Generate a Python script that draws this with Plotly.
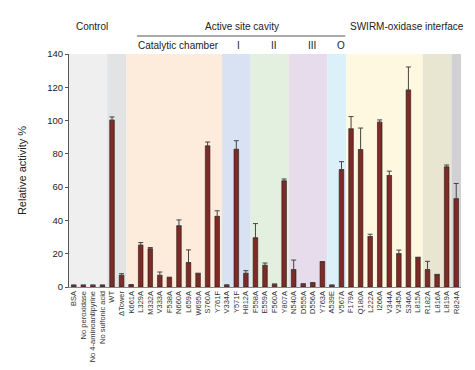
import plotly.graph_objects as go

categories = ["BSA", "No peroxidase", "No 4-aminoantipyrine", "No sulfonic acid", "WT", "ΔTower",
              "K661A", "L329A", "M332A", "V333A", "F538A", "N660A", "L659A", "W695A", "S760A", "Y761F",
              "V334A", "Y571F", "H812A",
              "F558A", "E559A", "F560A", "Y807A",
              "N540A", "D555A", "D556A", "Y763A",
              "A539E", "V567A",
              "F179A", "Q180A", "L222A", "I266A", "V344A", "V345A", "S346A", "L815A",
              "R182A", "L816A", "L819A",
              "R824A"]
activity = [1, 1, 1, 1, 100.2, 7.0,
            1.2, 25.1, 22.9, 7.0, 5.6, 36.7, 14.7, 8.0, 84.7, 42.4,
            1.0, 82.7, 8.2,
            29.5, 13.0, 1.6, 63.7,
            10.4, 1.6, 2.4, 15.1,
            1.0, 70.5,
            95.0, 82.5, 30.3, 99.0, 67.0, 20.0, 118.3, 17.7,
            10.4, 7.4, 72.1,
            53.0]
error = [0.2, 0.2, 0.2, 0.2, 2.0, 1.0,
         0.3, 1.6, 0.8, 2.0, 0.3, 3.6, 7.6, 0.3, 2.4, 3.4,
         0.3, 5.2, 1.6,
         8.6, 1.4, 0.2, 1.2,
         5.8, 0.4, 0.2, 0.2,
         0.2, 4.8,
         7.4, 13.0, 1.4, 1.4, 2.6, 2.2, 13.9, 0.2,
         5.0, 0.2, 1.2,
         9.2]

# background groups: (first index, last index, colour)
group_starts = [0, 4, 6, 16, 19, 23, 27, 29, 37, 40]
group_ends = [3, 5, 15, 18, 22, 26, 28, 36, 39, 40]
group_colors = ["#efefef", "#e1e3e5", "#fdebdb", "#d9e2f2", "#e3f0e0",
                "#e6dcec", "#dcf0fa", "#fef8e0", "#e8e5d1", "#d1d1d3"]

y_ticks = [0, 20, 40, 60, 80, 100, 120, 140]

x_idx = list(range(len(categories)))

fig = go.Figure()
fig.add_trace(go.Bar(
    x=x_idx, y=activity,
    width=0.48,
    marker=dict(color="#7d2b27", line=dict(color="#2a1210", width=0.6)),
    error_y=dict(type="data", array=error, arrayminus=[0] * len(error), symmetric=False,
                 color="#444444", thickness=1, width=2.5),
))

for s, e, c in zip(group_starts, group_ends, group_colors):
    fig.add_shape(type="rect", xref="x", yref="paper", x0=s - 0.5, x1=e + 0.5, y0=0, y1=1,
                  fillcolor=c, line=dict(width=0), layer="below")

font = "Liberation Sans, Arial, sans-serif"

# page offset of 8px (default body margin) is accounted for in the figure size
plot_top, plot_bot = 54, 287


def ypaper(p):
    return (plot_bot - p) / (plot_bot - plot_top)


def header(text, xdata, ypix):
    fig.add_annotation(text=text, x=xdata, xref="x", y=ypaper(ypix), yref="paper",
                       showarrow=False, font=dict(size=10, color="#222222", family=font),
                       xanchor="center", yanchor="middle")


header("Control", 1.9, 26)
header("Active site cavity", 17.6, 26)
header("SWIRM-oxidase interface", 34.9, 26)
header("Catalytic chamber", 11.0, 46)
header("I", 17.2, 46)
header("II", 20.9, 46)
header("III", 24.9, 46)
header("O", 28.0, 46)

fig.add_shape(type="line", xref="x", yref="paper", x0=6.6, x1=28.4,
              y0=ypaper(36), y1=ypaper(36), line=dict(color="#555555", width=1))

fig.update_layout(
    width=467, height=362,
    margin=dict(l=61, r=14, t=46, b=83),
    paper_bgcolor="white", plot_bgcolor="white",
    showlegend=False,
    bargap=0.5,
    font=dict(family=font, color="#222222"),
)
fig.update_xaxes(
    range=[-0.5, len(categories) - 0.5],
    tickmode="array", tickvals=x_idx, ticktext=categories,
    tickangle=-90, tickfont=dict(size=7.5, color="#333333"),
    showline=True, linecolor="#888888", linewidth=1,
    ticks="", showgrid=False, zeroline=False, automargin=False,
)
fig.update_yaxes(
    range=[0, 140],
    tickmode="array", tickvals=y_ticks,
    tickfont=dict(size=9.5, color="#222222"),
    ticks="outside", ticklen=3, tickcolor="#555555",
    showline=True, linecolor="#555555", linewidth=1,
    showgrid=False, zeroline=False, automargin=False,
    title=dict(text="Relative activity %", font=dict(size=11, color="#222222"), standoff=18),
)

fig.write_html("out.html")
